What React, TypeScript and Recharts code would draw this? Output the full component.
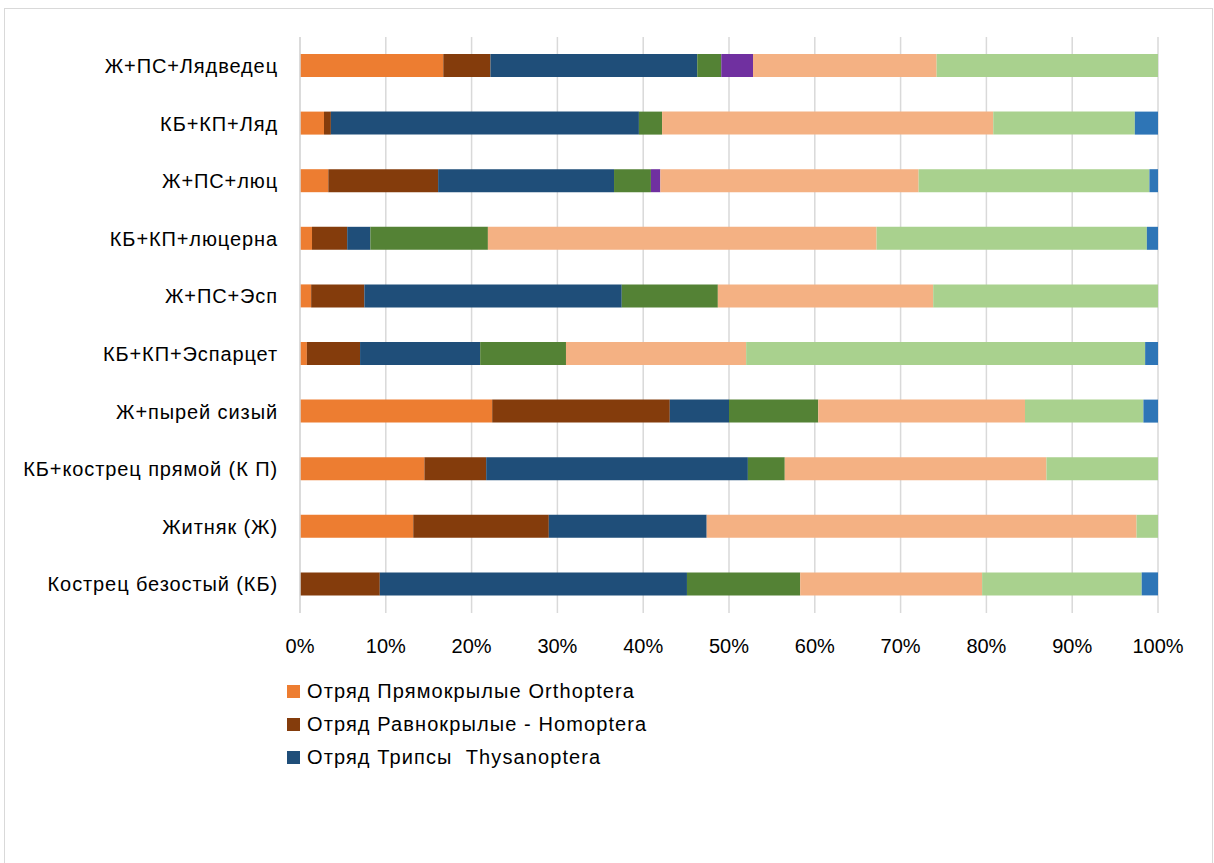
import { BarChart, Bar, XAxis, YAxis, CartesianGrid } from 'recharts'

const categories = [
  'Ж+ПС+Лядведец',
  'КБ+КП+Ляд',
  'Ж+ПС+люц',
  'КБ+КП+люцерна',
  'Ж+ПС+Эсп',
  'КБ+КП+Эспарцет',
  'Ж+пырей сизый',
  'КБ+кострец прямой (К П)',
  'Житняк (Ж)',
  'Кострец безостый (КБ)',
]

// shares (%) per category, same order as categories
const orthoptera = [16.7, 2.8, 3.3, 1.4, 1.3, 0.8, 22.4, 14.5, 13.2, 0]
const homoptera = [5.5, 0.8, 12.8, 4.1, 6.2, 6.2, 20.7, 7.2, 15.8, 9.3]
const thysanoptera = [24.1, 35.9, 20.5, 2.7, 30.0, 14.0, 6.9, 30.5, 18.4, 35.8]
const hemiptera = [2.8, 2.7, 4.3, 13.7, 11.2, 10.0, 10.4, 4.3, 0, 13.2]
const neuroptera = [3.7, 0, 1.1, 0, 0, 0, 0, 0, 0, 0]
const coleoptera = [21.4, 38.6, 30.1, 45.3, 25.1, 21.0, 24.1, 30.5, 50.1, 21.2]
const hymenoptera = [25.8, 16.5, 26.9, 31.5, 26.2, 46.5, 13.8, 13.0, 2.5, 18.6]
const diptera = [0, 2.7, 1.0, 1.3, 0, 1.5, 1.7, 0, 0, 1.9]

const percentTicks = [0, 0.1, 0.2, 0.3, 0.4, 0.5, 0.6, 0.7, 0.8, 0.9, 1]

const series = [
  { key: 'orthoptera', name: 'Отряд Прямокрылые Orthoptera', color: '#ED7D31', values: orthoptera },
  { key: 'homoptera', name: 'Отряд Равнокрылые - Homoptera', color: '#843C0C', values: homoptera },
  { key: 'thysanoptera', name: 'Отряд Трипсы  Thysanoptera', color: '#1F4E79', values: thysanoptera },
  { key: 'hemiptera', name: 'Отряд Полужесткокрылые Hemiptera', color: '#548235', values: hemiptera },
  { key: 'neuroptera', name: 'Отряд Сетчатокрылые Neuroptera', color: '#7030A0', values: neuroptera },
  { key: 'coleoptera', name: 'Отряд Жесткокрылые Coleoptera', color: '#F4B183', values: coleoptera },
  { key: 'hymenoptera', name: 'Отряд Перепончатокрылые Hymenoptera', color: '#A9D18E', values: hymenoptera },
  { key: 'diptera', name: 'Отряд Двукрылые Diptera', color: '#2E75B6', values: diptera },
]

// only the first three legend entries are visible in the original
const legendShown = series.slice(0, 3)

const data = categories.map((c, i) => {
  const row: Record<string, string | number> = { name: c }
  series.forEach(s => { row[s.key] = s.values[i] })
  return row
})

const FONT = '"Liberation Sans", Arial, sans-serif'

export default function App() {
  return (
    <div
      style={{
        position: 'absolute',
        left: 4,
        top: 8,
        width: 1209,
        height: 870,
        borderTop: '1px solid #d9d9d9',
        borderLeft: '1px solid #d9d9d9',
        borderRight: '1px solid #d9d9d9',
        boxSizing: 'border-box',
        background: '#fff',
        fontFamily: FONT,
      }}
    >
      <BarChart
        width={1207}
        height={664}
        data={data}
        layout="vertical"
        stackOffset="expand"
        barSize={23}
        margin={{ top: 28, right: 54, left: 0, bottom: 20 }}
      >
        <CartesianGrid horizontal={false} stroke="#d9d9d9" strokeWidth={1.5} />
        <XAxis
          type="number"
          domain={[0, 1]}
          ticks={percentTicks}
          tickFormatter={(v: number) => `${Math.round(v * 100)}%`}
          axisLine={false}
          tickLine={false}
          tickSize={0}
          tickMargin={26}
          height={40}
          interval={0}
          tick={{ fill: '#000', fontSize: 20, fontFamily: FONT }}
        />
        <YAxis
          type="category"
          dataKey="name"
          width={295}
          axisLine={{ stroke: '#d9d9d9', strokeWidth: 1.5 }}
          tickLine={false}
          tickSize={0}
          tickMargin={22}
          interval={0}
          tick={{ fill: '#000', fontSize: 20, fontFamily: FONT, letterSpacing: 0.9 }}
        />
        {series.map(s => (
          <Bar key={s.key} dataKey={s.key} name={s.name} stackId="a" fill={s.color} isAnimationActive={false} />
        ))}
      </BarChart>
      <div style={{ position: 'absolute', left: 282, top: 666 }}>
        {legendShown.map(s => (
          <div key={s.key} style={{ display: 'flex', alignItems: 'center', height: 33 }}>
            <span style={{ display: 'inline-block', width: 13, height: 13, background: s.color, marginRight: 7 }} />
            <span style={{ fontSize: 20, letterSpacing: 1.1, color: '#000', whiteSpace: 'pre' }}>{s.name}</span>
          </div>
        ))}
      </div>
    </div>
  )
}
